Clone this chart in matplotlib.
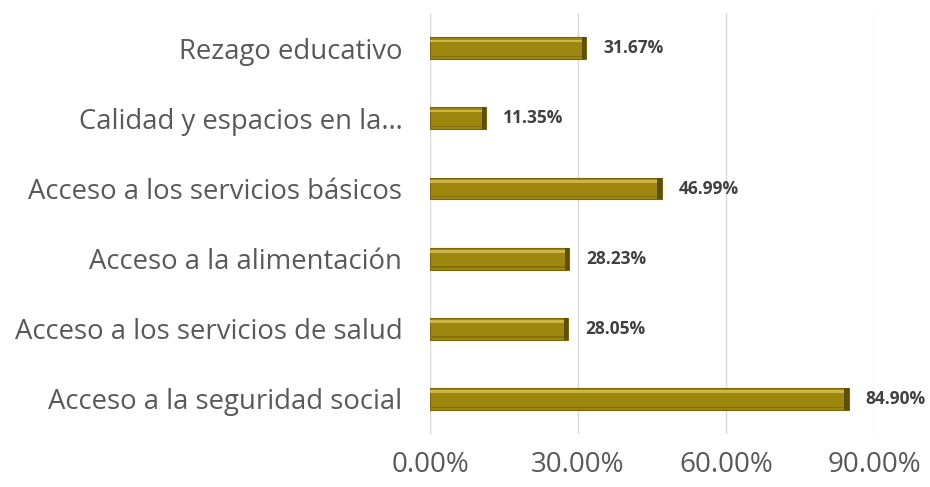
import matplotlib
matplotlib.use("Agg")
import matplotlib.pyplot as plt
from matplotlib.ticker import FuncFormatter

categories = ["Acceso a la seguridad social", "Acceso a los servicios de salud",
              "Acceso a la alimentación", "Acceso a los servicios básicos",
              "Calidad y espacios en la…", "Rezago educativo"]
values = [84.90, 28.05, 28.23, 46.99, 11.35, 31.67]
xticks = [0, 30, 60, 90]

plt.rcParams['font.family'] = ['Open Sans', 'DejaVu Sans']

fig = plt.figure(figsize=(9.3, 4.87), dpi=100)
ax = fig.add_axes([0.4624, 0.1088, 0.9398 - 0.4624, 0.973 - 0.1088])

y = list(range(len(categories)))
h = 0.31
bev = 0.9
ax.barh(y, values, height=h, color='#9E870F', edgecolor='#7A6608', linewidth=0.8, zorder=3)
# bevel highlights
ax.barh([v + h * 0.33 for v in y], values, height=h * 0.12, color='#CDB645', linewidth=0, zorder=4)
ax.barh([v - h * 0.38 for v in y], values, height=h * 0.06, color='#85700B', linewidth=0, zorder=4)
ax.barh(y, [bev] * len(values), left=[v - bev for v in values], height=h,
        color='#5E4F08', linewidth=0, zorder=5)

for yi, v in zip(y, values):
    ax.text(v + 3.4, yi, f"{v:.2f}%", va='center', ha='left', fontsize=12.5,
            fontweight='bold', color='#404040')

ax.set_xlim(0, 90)
ax.set_ylim(-0.5, len(categories) - 0.5)
ax.set_xticks(xticks)
ax.xaxis.set_major_formatter(FuncFormatter(lambda v, p: f"{v:.2f}%"))
ax.set_yticks(y)
ax.set_yticklabels(categories)
ax.tick_params(axis='y', length=0, pad=20, labelsize=19.8, labelcolor='#595959')
ax.tick_params(axis='x', length=0, pad=12, labelsize=20, labelcolor='#595959')
ax.grid(axis='x', color='#D9D9D9', linewidth=1, zorder=0)
for s in ax.spines.values():
    s.set_visible(False)

fig.savefig("out.png", dpi=100)
